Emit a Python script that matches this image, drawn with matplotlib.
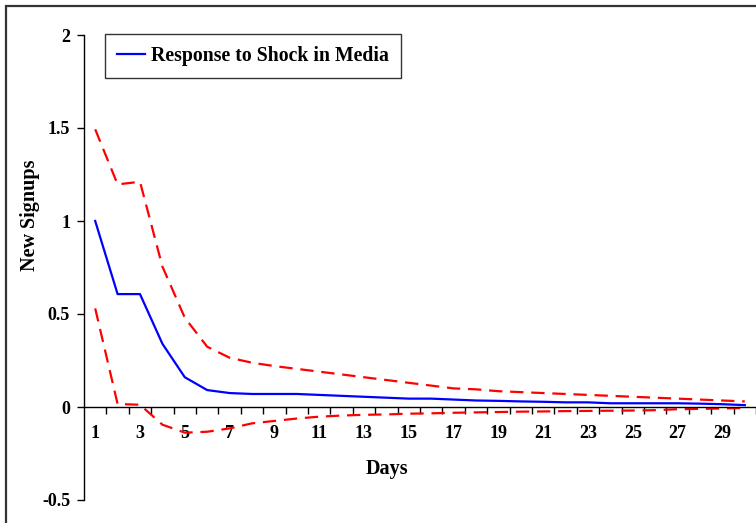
import matplotlib.pyplot as plt
from matplotlib.patches import Rectangle

plt.rcParams['font.family'] = ['Liberation Serif', 'DejaVu Serif']
plt.rcParams['font.weight'] = 'bold'

# impulse response of new signups to a media shock, with upper/lower bands
days = list(range(1, 31))
response = [1.0, 0.607, 0.607, 0.340, 0.160, 0.091, 0.075, 0.070, 0.070, 0.070,
            0.065, 0.060, 0.055, 0.050, 0.045, 0.045, 0.040, 0.035, 0.033, 0.030,
            0.028, 0.025, 0.025, 0.020, 0.020, 0.020, 0.020, 0.018, 0.015, 0.010]
upper = [1.493, 1.197, 1.211, 0.755, 0.480, 0.324, 0.265, 0.238, 0.220, 0.205,
         0.190, 0.175, 0.160, 0.145, 0.130, 0.115, 0.100, 0.095, 0.085, 0.080,
         0.075, 0.070, 0.065, 0.060, 0.055, 0.050, 0.045, 0.040, 0.035, 0.030]
lower = [0.530, 0.016, 0.012, -0.095, -0.138, -0.133, -0.115, -0.088, -0.075, -0.062,
         -0.052, -0.046, -0.042, -0.040, -0.036, -0.034, -0.031, -0.029, -0.027, -0.025,
         -0.024, -0.022, -0.021, -0.020, -0.019, -0.017, -0.012, -0.010, -0.008, -0.005]

fig = plt.figure(figsize=(7.56, 5.23), dpi=100)
ax = fig.add_axes([84/756, 23/523, 1 - 84/756, 465/523])

ax.plot(days, upper, color='red', lw=1.6, dashes=(6, 3.5))
ax.plot(days, lower, color='red', lw=1.6, dashes=(6, 3.5))
line, = ax.plot(days, response, color='blue', lw=1.6)

ax.set_xlim(0.5, 30.5)
ax.set_ylim(-0.5, 2)

ax.spines['top'].set_visible(False)
ax.spines['right'].set_visible(False)
ax.spines['bottom'].set_position(('data', 0))
ax.spines['left'].set_linewidth(1)
ax.spines['bottom'].set_linewidth(1)

# tick marks between categories, labels on odd days
ax.set_xticks([d + 0.5 for d in days])
ax.set_xticklabels([])
ax.set_xticks(days[::2], minor=True)
ax.set_xticklabels([str(d) for d in days[::2]], minor=True)
ax.tick_params(axis='x', which='major', direction='out', length=5, width=1)
ax.tick_params(axis='x', which='minor', length=0, pad=13, labelsize=13)

ax.set_yticks([-0.5, 0, 0.5, 1, 1.5, 2])
ax.set_yticklabels(['-0.5', '0', '0.5', '1', '1.5', '2'])
ax.tick_params(axis='y', direction='out', length=5, width=1, pad=5, labelsize=13)

fig.text(387/756, 1 - 469/523, 'Days', ha='center', va='center', fontsize=14.5, fontweight='bold')
fig.text(30/756, 1 - 215/523, 'New Signups', ha='center', va='center', rotation=90,
         fontsize=14.5, fontweight='bold')

leg = fig.legend([line], ['Response to Shock in Media'], loc='upper left',
                 bbox_to_anchor=(105/756, 1 - 34/523), borderaxespad=0,
                 fancybox=False, framealpha=1, edgecolor='#333333',
                 prop={'size': 14.2, 'weight': 'bold'},
                 handlelength=1.45, handletextpad=0.3, borderpad=0.6)
leg.get_frame().set_linewidth(1)

# outer chart border (cropped at right and bottom)
fig.patches.append(Rectangle((6/756, -0.1), 1.2, 1 - 6/523 + 0.1, transform=fig.transFigure,
                             fill=False, edgecolor='#333333', lw=1.6))

fig.savefig('out.png', dpi=100)
